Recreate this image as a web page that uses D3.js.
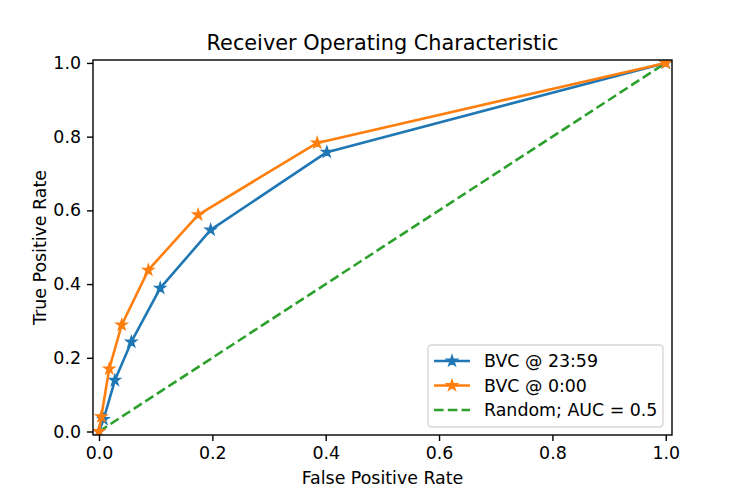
<!DOCTYPE html>
<html>
<head>
<meta charset="utf-8">
<script src="https://cdn.jsdelivr.net/npm/d3@7"></script>
<style>
  body { margin: 0; background: #fff; }
  text { font-family: "DejaVu Sans", sans-serif; fill: #000; }
</style>
</head>
<body>
<script>
// ROC points
var fpr2359 = [0, 0.008, 0.028, 0.057, 0.108, 0.197, 0.402, 1.0];
var tpr2359 = [0, 0.033, 0.139, 0.243, 0.389, 0.547, 0.758, 1.0];
var fpr000 = [0, 0.004, 0.018, 0.040, 0.087, 0.175, 0.385, 1.0];
var tpr000 = [0, 0.040, 0.170, 0.289, 0.438, 0.588, 0.783, 1.0];
var randomLine = [[0, 0], [1, 1]];
var xTicks = [0, 0.2, 0.4, 0.6, 0.8, 1.0];
var yTicks = [0, 0.2, 0.4, 0.6, 0.8, 1.0];
var legendLabels = ["BVC @ 23:59", "BVC @ 0:00", "Random; AUC = 0.5"];

var w = 747, h = 498;
var axLeft = 93, axRight = 672, axTop = 60, axBottom = 435;
var lw = 2.6, dash = "9.6,4.2", fs = "17.4px";

var svg = d3.select("body").append("svg")
    .attr("width", w)
    .attr("height", h);

var x = d3.scaleLinear().domain([-0.0106, 1.011]).range([axLeft, axRight]);
var y = d3.scaleLinear().domain([-0.0095, 1.008]).range([axBottom, axTop]);

/* 5 point star like matplotlib's '*' marker */
function star(r) {
    var pts = [];
    for (var i = 0; i < 10; i++) {
        var rr = i % 2 == 0 ? r : r * 0.382;
        var a = -Math.PI / 2 + i * Math.PI / 5;
        pts.push([rr * Math.cos(a), rr * Math.sin(a)]);
    }
    return "M" + pts.join("L") + "Z";
}

var line = d3.line().x(function(d) { return x(d[0]); }).y(function(d) { return y(d[1]); });

var series = [
    {pts: d3.zip(fpr2359, tpr2359), color: "#1f77b4"},
    {pts: d3.zip(fpr000, tpr000), color: "#ff7f0e"}
];

svg.append("clipPath").attr("id", "clip")
    .append("rect").attr("x", axLeft).attr("y", axTop)
    .attr("width", axRight - axLeft).attr("height", axBottom - axTop);

var plot = svg.append("g").attr("clip-path", "url(#clip)");

plot.append("path")
    .attr("d", line(randomLine))
    .attr("fill", "none")
    .attr("stroke", "#2ca02c")
    .attr("stroke-width", lw)
    .attr("stroke-dasharray", dash);

series.forEach(function(s) {
    plot.append("path")
        .attr("d", line(s.pts))
        .attr("fill", "none")
        .attr("stroke", s.color)
        .attr("stroke-width", lw)
        .attr("stroke-linejoin", "round");
    plot.selectAll(null)
        .data(s.pts)
        .enter()
        .append("path")
        .attr("d", star(5.6))
        .attr("transform", function(d) { return "translate(" + x(d[0]) + "," + y(d[1]) + ")"; })
        .attr("fill", s.color)
        .attr("stroke", s.color)
        .attr("stroke-width", 1.4);
});

/* axes */
var xAxis = d3.axisBottom(x).tickValues(xTicks).tickFormat(d3.format(".1f")).tickSize(6).tickPadding(6);
var yAxis = d3.axisLeft(y).tickValues(yTicks).tickFormat(d3.format(".1f")).tickSize(6).tickPadding(6);

var gx = svg.append("g").attr("transform", "translate(0," + axBottom + ")").call(xAxis);
var gy = svg.append("g").attr("transform", "translate(" + axLeft + ",0)").call(yAxis);
[gx, gy].forEach(function(g) {
    g.select(".domain").remove();
    g.selectAll(".tick line").attr("stroke", "#000").attr("stroke-width", 1.4);
    g.selectAll(".tick text").style("font-size", fs).style("font-family", "DejaVu Sans");
});

svg.append("rect")
    .attr("x", axLeft).attr("y", axTop)
    .attr("width", axRight - axLeft).attr("height", axBottom - axTop)
    .attr("fill", "none").attr("stroke", "#000").attr("stroke-width", 1.4);

/* labels */
svg.append("text")
    .attr("x", (axLeft + axRight) / 2).attr("y", 50)
    .attr("text-anchor", "middle")
    .style("font-size", "20.8px")
    .text("Receiver Operating Characteristic");

svg.append("text")
    .attr("x", (axLeft + axRight) / 2).attr("y", 484)
    .attr("text-anchor", "middle")
    .style("font-size", fs)
    .text("False Positive Rate");

svg.append("text")
    .attr("transform", "translate(46," + (axTop + axBottom) / 2 + ") rotate(-90)")
    .attr("text-anchor", "middle")
    .style("font-size", fs)
    .text("True Positive Rate");

/* legend */
var lg = svg.append("g");
lg.append("rect")
    .attr("x", 428).attr("y", 345)
    .attr("width", 235).attr("height", 82)
    .attr("rx", 3.5).attr("ry", 3.5)
    .attr("fill", "#fff").attr("fill-opacity", 0.8)
    .attr("stroke", "#d6d6d6").attr("stroke-width", 1.4);

var legendColors = ["#1f77b4", "#ff7f0e", "#2ca02c"];
legendLabels.forEach(function(lab, i) {
    var ly = 361 + i * 24.5;
    var ln = lg.append("line")
        .attr("x1", 434).attr("x2", 470)
        .attr("y1", ly).attr("y2", ly)
        .attr("stroke", legendColors[i])
        .attr("stroke-width", lw);
    if (i == 2) {
        ln.attr("stroke-dasharray", dash);
    } else {
        lg.append("path")
            .attr("d", star(5.6))
            .attr("transform", "translate(452," + ly + ")")
            .attr("fill", legendColors[i])
            .attr("stroke", legendColors[i])
            .attr("stroke-width", 1.4);
    }
    lg.append("text")
        .attr("x", 484).attr("y", ly + 6.3)
        .style("font-size", fs)
        .text(lab);
});
</script>
</body>
</html>
